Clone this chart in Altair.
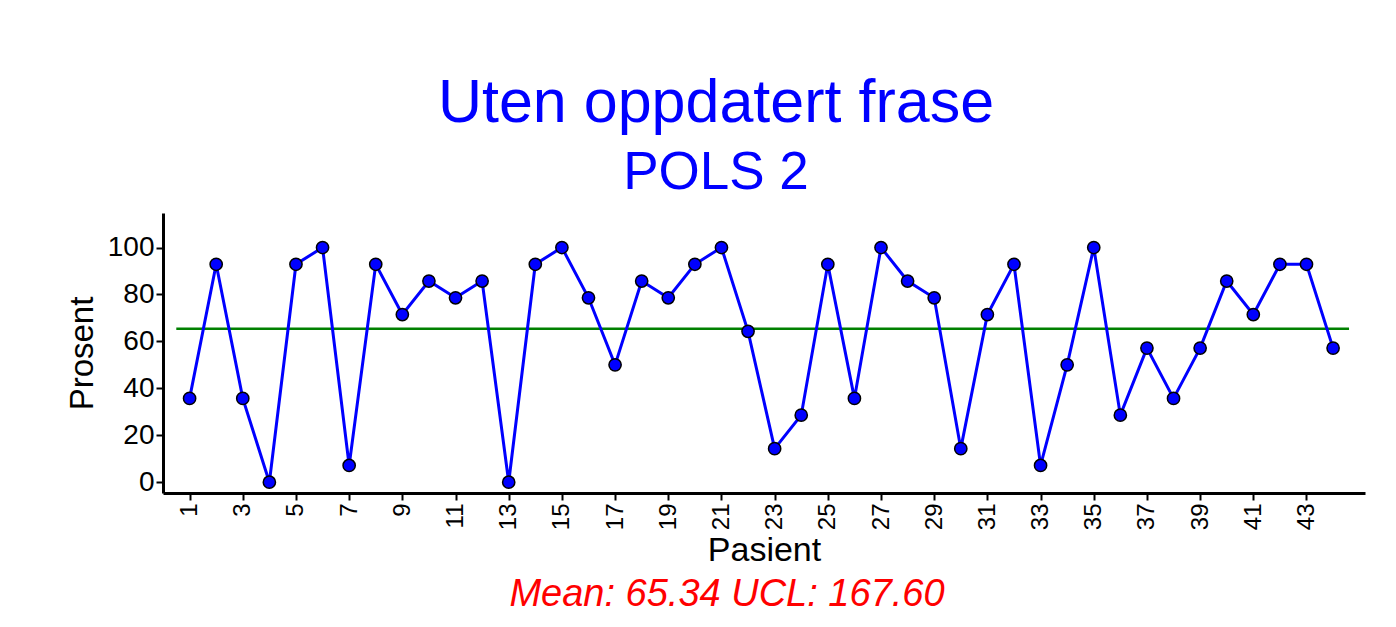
import altair as alt
import pandas as pd

patients = list(range(1, 45))
values = [35.71, 92.86, 35.71, 0, 92.86, 100, 7.14, 92.86, 71.43, 85.71,
          78.57, 85.71, 0, 92.86, 100, 78.57, 50, 85.71, 78.57, 92.86,
          100, 64.29, 14.29, 28.57, 92.86, 35.71, 100, 85.71, 78.57, 14.29,
          71.43, 92.86, 7.14, 50, 100, 28.57, 57.14, 35.71, 57.14, 85.71,
          71.43, 92.86, 92.86, 57.14]
mean_value = 65.34
ucl_value = 167.60
mean_start = [0.5]
mean_end = [44.6]
title_text = "Uten oppdatert frase"
subtitle_text = "POLS 2"
caption_text = [f"Mean: {mean_value:.2f} UCL: {ucl_value:.2f}"]

FONT = "Liberation Sans"
W, H = 1202, 280

df = pd.DataFrame({"Pasient": patients, "Prosent": values})
mean_df = pd.DataFrame({"x": mean_start, "x2": mean_end, "y": [mean_value]})
cap_df = pd.DataFrame({"t": caption_text})

xscale = alt.Scale(domain=[0, 45.2], nice=False, zero=False)
yscale = alt.Scale(domain=[-4.6, 114.7], nice=False, zero=False)

xaxis = alt.Axis(
    title="Pasient", values=patients,
    labelExpr="datum.value % 2 == 1 ? datum.label : ''",
    labelAngle=-90, labelFontSize=24, labelPadding=3,
    titleFontSize=34, titleFontWeight="normal", titlePadding=4,
    grid=False, domainWidth=3, domainColor="black", tickColor="black",
    tickWidth=2, tickSize=7, labelColor="black", titleColor="black",
    labelFont=FONT, titleFont=FONT,
)
yaxis = alt.Axis(
    title="Prosent", values=[0, 20, 40, 60, 80, 100],
    labelFontSize=28, labelPadding=2, titleFontSize=33, titleFontWeight="normal",
    titlePadding=8, grid=False, domainWidth=3, domainColor="black",
    tickColor="black", tickWidth=2, tickSize=7, labelColor="black",
    titleColor="black", labelFont=FONT, titleFont=FONT,
)

base = alt.Chart(df).encode(
    x=alt.X("Pasient:Q", scale=xscale, axis=xaxis),
    y=alt.Y("Prosent:Q", scale=yscale, axis=yaxis),
)

mean_rule = alt.Chart(mean_df).mark_rule(color="#008000", strokeWidth=2.5).encode(
    x=alt.X("x:Q", scale=xscale),
    x2="x2:Q",
    y=alt.Y("y:Q", scale=yscale),
)

line = base.mark_line(color="#0000ff", strokeWidth=3)
points = base.mark_point(filled=True, fill="#0000ff", stroke="black",
                         strokeWidth=1.5, size=150, opacity=1, shape="circle")

caption = alt.Chart(cap_df).mark_text(
    color="red", font=FONT, fontSize=38, fontStyle="italic",
    align="center", baseline="alphabetic",
).encode(text="t:N", x=alt.value(564), y=alt.value(393))

chart = alt.layer(mean_rule, line, points, caption).properties(
    width=W, height=H,
    title=alt.TitleParams(
        text=title_text, subtitle=subtitle_text, anchor="middle", frame="group",
        font=FONT, fontSize=61, fontWeight="normal", color="#0000ff",
        subtitleFont=FONT, subtitleFontSize=53, subtitleColor="#0000ff",
        subtitlePadding=12, offset=12, dx=-48,
    ),
    autosize=alt.AutoSizeParams(type="none"),
    padding={"left": 155, "top": 205, "right": 20, "bottom": 126},
).configure_view(stroke=None)

chart.save("out.html", embed_options={"renderer": "svg", "actions": False})
